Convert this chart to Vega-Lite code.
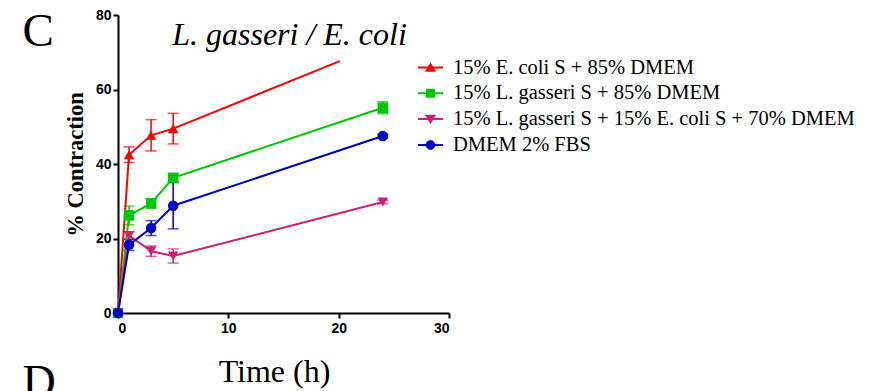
{
  "$schema": "https://vega.github.io/schema/vega-lite/v6.json",
  "background": "white",
  "autosize": {"type": "pad"},
  "padding": {"left": 22, "top": 8, "right": 0, "bottom": 0},
  "title": {"text": "D", "orient": "bottom", "anchor": "start", "font": "Liberation Serif", "fontSize": 46, "fontWeight": "normal", "color": "black", "dx": 0, "dy": -30},
  "config": {
    "view": {"stroke": null},
    "font": "Liberation Serif",
    "axis": {"grid": false, "domainColor": "black", "domainWidth": 2, "tickColor": "black", "tickWidth": 2, "tickSize": 5, "labelFont": "Liberation Sans", "labelFontWeight": "bold", "labelFontSize": 14, "labelColor": "black", "titleColor": "black"}
  },
  "vconcat": [
    {
      "title": {"text": "C", "anchor": "start", "font": "Liberation Serif", "fontSize": 47, "fontWeight": "normal", "color": "black", "dx": -42, "dy": 52},
      "vconcat": [
        {
          "width": 331,
          "height": 298,
          "title": {"text": "L. gasseri / E. coli", "font": "Liberation Serif", "fontStyle": "italic", "fontWeight": "normal", "fontSize": 32, "color": "black", "anchor": "middle", "dx": 6, "offset": -44, "frame": "group"},
          "data": {"values": [
            {"series": "15% E. coli S + 85% DMEM", "time": 0, "v": 0, "err": 0},
            {"series": "15% E. coli S + 85% DMEM", "time": 1, "v": 42.5, "err": 2.1},
            {"series": "15% E. coli S + 85% DMEM", "time": 3, "v": 47.7, "err": 4.2},
            {"series": "15% E. coli S + 85% DMEM", "time": 5, "v": 49.5, "err": 4.1},
            {"series": "15% E. coli S + 85% DMEM", "time": 20.1, "v": 67.6, "err": 0},
            {"series": "15% L. gasseri S + 85% DMEM", "time": 0, "v": 0, "err": 0},
            {"series": "15% L. gasseri S + 85% DMEM", "time": 1, "v": 26.2, "err": 2.5},
            {"series": "15% L. gasseri S + 85% DMEM", "time": 3, "v": 29.4, "err": 1.2},
            {"series": "15% L. gasseri S + 85% DMEM", "time": 5, "v": 36.3, "err": 1.0},
            {"series": "15% L. gasseri S + 85% DMEM", "time": 24, "v": 55.1, "err": 1.6},
            {"series": "15% L. gasseri S + 15% E. coli S + 70% DMEM", "time": 0, "v": 0, "err": 0},
            {"series": "15% L. gasseri S + 15% E. coli S + 70% DMEM", "time": 1, "v": 20.8, "err": 1.0},
            {"series": "15% L. gasseri S + 15% E. coli S + 70% DMEM", "time": 3, "v": 16.6, "err": 1.4},
            {"series": "15% L. gasseri S + 15% E. coli S + 70% DMEM", "time": 5, "v": 15.3, "err": 1.9},
            {"series": "15% L. gasseri S + 15% E. coli S + 70% DMEM", "time": 24, "v": 29.8, "err": 0.5},
            {"series": "DMEM 2% FBS", "time": 0, "v": 0, "err": 0},
            {"series": "DMEM 2% FBS", "time": 1, "v": 18.3, "err": 1.5},
            {"series": "DMEM 2% FBS", "time": 3, "v": 22.8, "err": 2.0},
            {"series": "DMEM 2% FBS", "time": 5, "v": 28.8, "err": 6.2},
            {"series": "DMEM 2% FBS", "time": 24, "v": 47.5, "err": 0.5}
          ]},
          "encoding": {
            "x": {"field": "time", "type": "quantitative", "scale": {"domain": [0, 30], "nice": false}, "axis": {"values": [0, 10, 20, 30], "title": "Time (h)", "titleFont": "Liberation Serif", "titleFontSize": 32, "titleFontWeight": "normal", "titlePadding": 21, "titleX": 156, "labelPadding": 3}},
            "y": {"field": "v", "type": "quantitative", "scale": {"domain": [0, 80], "nice": false}, "axis": {"values": [0, 20, 40, 60, 80], "title": "% Contraction", "titleFont": "Liberation Serif", "titleFontSize": 22.5, "titleFontWeight": "bold", "titlePadding": 8, "labelPadding": 2, "titleY": 149}},
            "color": {"field": "series", "type": "nominal", "scale": {"domain": ["15% E. coli S + 85% DMEM", "15% L. gasseri S + 85% DMEM", "15% L. gasseri S + 15% E. coli S + 70% DMEM", "DMEM 2% FBS"], "range": ["#ff0000", "#00c800", "#d01f72", "#0000c8"]}, "legend": {
              "orient": "none", "legendX": 300, "legendY": 40, "title": null, "padding": 0,
              "labelFont": "Liberation Serif", "labelFontSize": 20.5, "labelColor": "black", "labelOffset": 10, "labelLimit": 600,
              "symbolSize": 625, "rowPadding": 2.8, "symbolStrokeWidth": 0, "symbolOpacity": 1,
              "encoding": {"symbols": {"opacity": {"value": 1}}}
            }}
          },
          "layer": [
            {"transform": [{"filter": "datum.time !== 20.1"}], "mark": {"type": "point", "filled": true, "opacity": 1}, "encoding": {"shape": {"field": "series", "type": "nominal", "scale": {"domain": ["15% E. coli S + 85% DMEM", "15% L. gasseri S + 85% DMEM", "15% L. gasseri S + 15% E. coli S + 70% DMEM", "DMEM 2% FBS"], "range": ["M-1,-0.08H1V0.08H-1ZM0,-0.42L0.44,0.34L-0.44,0.34Z", "M-1,-0.08H1V0.08H-1ZM-0.36,-0.36H0.36V0.36H-0.36Z", "M-1,-0.08H1V0.08H-1ZM0,0.42L-0.44,-0.34L0.44,-0.34Z", "M-1,-0.08H1V0.08H-1ZM0.38,0A0.38,0.38,0,1,1,-0.38,0A0.38,0.38,0,1,1,0.38,0Z"]}}}},
            {"transform": [{"filter": "datum.err > 0"}], "mark": {"type": "errorbar", "ticks": {"size": 11, "thickness": 1.5}, "thickness": 1.5}, "encoding": {"yError": {"field": "err"}}},
            {"mark": {"type": "line", "strokeWidth": 2}},
            {"transform": [{"filter": "datum.series === '15% E. coli S + 85% DMEM' && datum.time !== 20.1"}], "mark": {"type": "point", "filled": true, "size": 110, "opacity": 1, "shape": "triangle-up"}},
            {"transform": [{"filter": "datum.series === '15% L. gasseri S + 85% DMEM'"}], "mark": {"type": "point", "filled": true, "size": 110, "opacity": 1, "shape": "square"}},
            {"transform": [{"filter": "datum.series === '15% L. gasseri S + 15% E. coli S + 70% DMEM'"}], "mark": {"type": "point", "filled": true, "size": 110, "opacity": 1, "shape": "triangle-down"}},
            {"transform": [{"filter": "datum.series === 'DMEM 2% FBS'"}], "mark": {"type": "point", "filled": true, "size": 110, "opacity": 1, "shape": "circle"}}
          ]
        }
      ]
    }
  ]
}
